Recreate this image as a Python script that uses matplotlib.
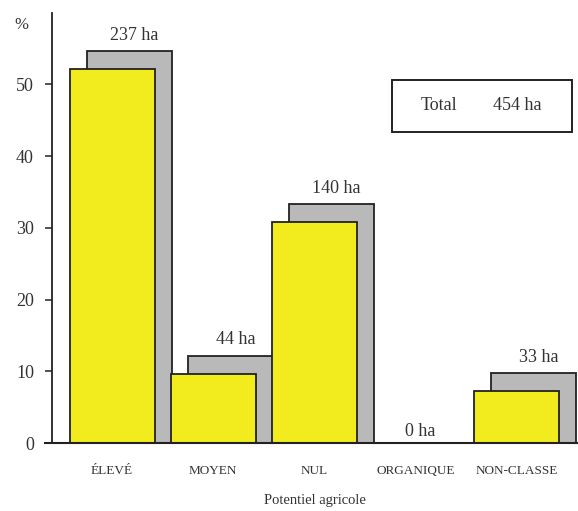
import matplotlib
matplotlib.use("Agg")
import matplotlib.pyplot as plt
from matplotlib.patches import Rectangle

# Surface par classe de potentiel agricole (ha)
categories = ["ÉLEVÉ", "MOYEN", "NUL", "ORGANIQUE", "NON-CLASSE"]
hectares = [237, 44, 140, 0, 33]
total_ha = 454
yticks = [0, 10, 20, 30, 40, 50]

pct = [h / total_ha * 100 for h in hectares]

yellow = "#f2ec1e"
grey = "#b9b9b9"
ink = "#333333"
bar_w = 0.84
shift_x, shift_y = 0.17, 2.5

plt.rcParams["font.family"] = ["Liberation Serif", "DejaVu Serif"]

fig = plt.figure(figsize=(5.78, 5.11), dpi=100)
ax = fig.add_axes([0.09, 0.133, 0.91, 0.842])

for i, p in enumerate(pct):
    if p > 0:
        # ombre grise décalée
        ax.add_patch(Rectangle((i - bar_w / 2 + shift_x, 0), bar_w, p + shift_y,
                               facecolor=grey, edgecolor="#222222", lw=1.3, zorder=1))
        ax.add_patch(Rectangle((i - bar_w / 2, 0), bar_w, p,
                               facecolor=yellow, edgecolor="#222222", lw=1.3, zorder=2))
        ax.text(i + shift_x + 0.05, p + shift_y + 1.0, f"{hectares[i]} ha",
                ha="center", va="bottom", fontsize=13, color=ink)
    else:
        ax.text(i + 0.05, 0.4, f"{hectares[i]} ha",
                ha="center", va="bottom", fontsize=13, color=ink)

ax.set_xlim(-0.594, 4.61)
ax.set_ylim(0, 60)
ax.set_yticks(yticks)
ax.set_yticklabels([str(t) for t in yticks], fontsize=13, color=ink)
ax.tick_params(axis="y", length=5, width=1.2, pad=8, color=ink)
ax.set_xticks(range(len(categories)))
ax.set_xticklabels(categories, fontsize=9.5, color=ink)
ax.tick_params(axis="x", length=0, pad=16)
ax.set_xlabel("Potentiel agricole", fontsize=10.5, color=ink, labelpad=12)

for s in ["top", "right", "bottom"]:
    ax.spines[s].set_visible(False)
ax.spines["left"].set_linewidth(1.3)
ax.spines["left"].set_color("#222222")
ax.axhline(0, xmin=-0.013, xmax=1, color="#222222", lw=1.5, clip_on=False, zorder=3)

ax.text(-0.045, 0.99, "%", transform=ax.transAxes, fontsize=12, color=ink,
        ha="right", va="top")

# encadré du total
ax.add_patch(Rectangle((0.646, 0.723), 0.343, 0.121, transform=ax.transAxes,
                       facecolor="white", edgecolor="#222222", lw=1.4, zorder=4))
ax.text(0.735, 0.784, "Total", transform=ax.transAxes, ha="center", va="center",
        fontsize=13, color=ink, zorder=5)
ax.text(0.885, 0.784, f"{total_ha} ha", transform=ax.transAxes, ha="center", va="center",
        fontsize=13, color=ink, zorder=5)

fig.savefig("out.png", dpi=100)
